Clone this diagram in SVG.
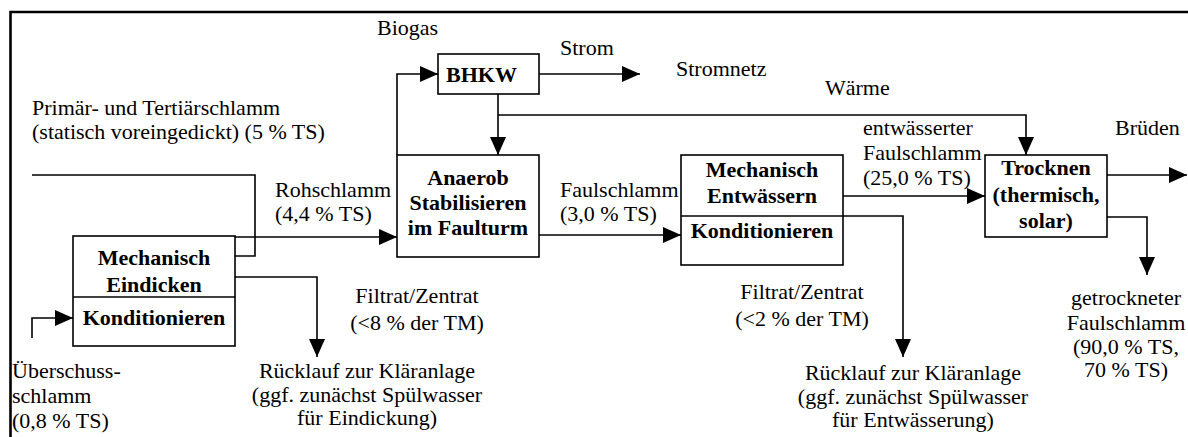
<svg xmlns="http://www.w3.org/2000/svg" width="1188" height="437" viewBox="0 0 1188 437">
<style>
text{font-family:'Liberation Serif',Tinos,'Times New Roman',Times,'DejaVu Serif',serif;font-size:22px;fill:#000}
.b{font-weight:bold}
.m{text-anchor:middle}
.box{fill:#fff;stroke:#000;stroke-width:1.6}
.c{fill:none;stroke:#000;stroke-width:1.6}
.ca{fill:none;stroke:#000;stroke-width:1.6;marker-end:url(#ah)}
</style>
<defs>
<marker id="ah" markerUnits="userSpaceOnUse" markerWidth="18" markerHeight="16" viewBox="0 0 18 16" refX="18" refY="8" orient="auto">
<path d="M0,0 L18,8 L0,16 z" fill="#000"/>
</marker>
</defs>
<rect x="0" y="0" width="1188" height="437" fill="#fff"/>
<path d="M10.5,437 V12 H1188" fill="none" stroke="#000" stroke-width="2.6"/>

<g id="connectors">
<path class="c" d="M32,175 H255 V256 H235"/>
<path class="ca" d="M235,237 H397"/>
<path class="ca" d="M235,277 H317 V357"/>
<path class="ca" d="M32,338 V318 H73"/>
<path class="ca" d="M397,155 V74 H438"/>
<path class="ca" d="M539,74 H640"/>
<path class="ca" d="M498,94 V155"/>
<path class="ca" d="M498,115 H1026 V155"/>
<path class="ca" d="M539,235 H681"/>
<path class="ca" d="M843,196 H985"/>
<path class="ca" d="M843,216 H903 V357"/>
<path class="ca" d="M1107,175 H1187"/>
<path class="ca" d="M1107,217 H1147 V275"/>
</g>

<g id="eindicken">
<rect class="box" x="73" y="236" width="162" height="110"/>
<line x1="73" y1="297" x2="235" y2="297" stroke="#000" stroke-width="1.6"/>
<text class="b m" x="154" y="265">Mechanisch</text>
<text class="b m" x="154" y="292">Eindicken</text>
<text class="b m" x="154" y="325">Konditionieren</text>
</g>

<g id="anaerob">
<rect class="box" x="397" y="155" width="142" height="102"/>
<text class="b m" x="468" y="185">Anaerob</text>
<text class="b m" x="468" y="210">Stabilisieren</text>
<text class="b m" x="468" y="235">im Faulturm</text>
</g>

<g id="bhkw">
<rect class="box" x="438" y="54" width="101" height="40"/>
<text class="b" x="446" y="82">BHKW</text>
</g>

<g id="entwaessern">
<rect class="box" x="681" y="155" width="162" height="110"/>
<line x1="681" y1="216" x2="843" y2="216" stroke="#000" stroke-width="1.6"/>
<text class="b m" x="762" y="177">Mechanisch</text>
<text class="b m" x="762" y="203">Entwässern</text>
<text class="b m" x="762" y="238">Konditionieren</text>
</g>

<g id="trocknen">
<rect class="box" x="985" y="155" width="122" height="82"/>
<text class="b m" x="1046" y="175">Trocknen</text>
<text class="b m" x="1046" y="202">(thermisch,</text>
<text class="b m" x="1046" y="228">solar)</text>
</g>

<g id="labels">
<text x="377" y="35">Biogas</text>
<text x="560" y="55">Strom</text>
<text x="676" y="76">Stromnetz</text>
<text x="825" y="95">Wärme</text>
<text x="32" y="115">Primär- und Tertiärschlamm</text>
<text x="32" y="139">(statisch voreingedickt) (5 % TS)</text>
<text x="275" y="197">Rohschlamm</text>
<text x="275" y="221">(4,4 % TS)</text>
<text x="560" y="197">Faulschlamm</text>
<text x="560" y="221">(3,0 % TS)</text>
<text x="863" y="135">entwässerter</text>
<text x="863" y="160">Faulschlamm</text>
<text x="863" y="185">(25,0 % TS)</text>
<text x="1115" y="135">Brüden</text>
<text class="m" x="417" y="303">Filtrat/Zentrat</text>
<text class="m" x="417" y="330">(&lt;8 % der TM)</text>
<text class="m" x="367" y="378">Rücklauf zur Kläranlage</text>
<text class="m" x="367" y="402">(ggf. zunächst Spülwasser</text>
<text class="m" x="367" y="425">für Eindickung)</text>
<text x="12" y="378">Überschuss-</text>
<text x="12" y="403">schlamm</text>
<text x="12" y="428">(0,8 % TS)</text>
<text class="m" x="802" y="299">Filtrat/Zentrat</text>
<text class="m" x="802" y="326">(&lt;2 % der TM)</text>
<text class="m" x="913" y="380">Rücklauf zur Kläranlage</text>
<text class="m" x="913" y="404">(ggf. zunächst Spülwasser</text>
<text class="m" x="913" y="427">für Entwässerung)</text>
<text class="m" x="1126" y="305">getrockneter</text>
<text class="m" x="1126" y="330">Faulschlamm</text>
<text class="m" x="1126" y="354">(90,0 % TS,</text>
<text class="m" x="1126" y="377">70 % TS)</text>
</g>
</svg>
